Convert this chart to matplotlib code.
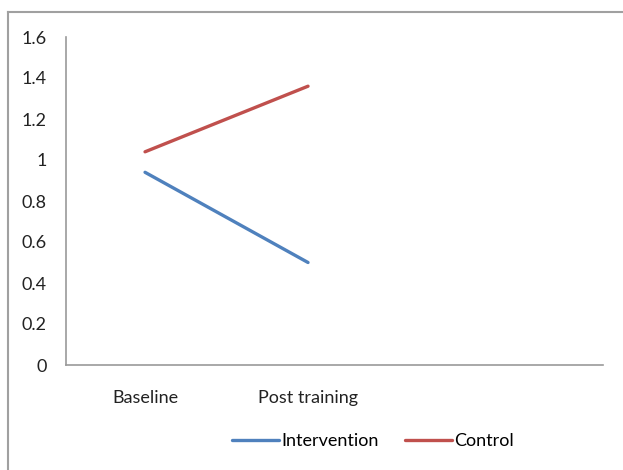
import numpy as np
import matplotlib.pyplot as plt
from matplotlib.lines import Line2D

categories = ["Baseline", "Post training"]
intervention = [0.94, 0.50]
control = [1.04, 1.36]
yticks = [0, 0.2, 0.4, 0.6, 0.8, 1, 1.2, 1.4, 1.6]
ytick_labels = ["0", "0.2", "0.4", "0.6", "0.8", "1", "1.2", "1.4", "1.6"]

plt.rcParams['font.family'] = ['Lato', 'DejaVu Sans']

W, H = 623, 470
fig = plt.figure(figsize=(W / 100, H / 100), dpi=100)
# axes box in pixels: x 66..603, y 37..365
ax = fig.add_axes([66 / W, 1 - 365 / H, (603 - 66) / W, (365 - 37) / H])

x = np.arange(len(categories))
ax.plot(x, intervention, color='#4F81BD', lw=2.4, label='Intervention', solid_capstyle='round')
ax.plot(x, control, color='#C0504D', lw=2.4, label='Control', solid_capstyle='round')

ax.set_ylim(0, 1.6)
ax.set_xlim(-0.485, 2.81)
ax.set_yticks(yticks)
ax.set_yticklabels(ytick_labels)
ax.set_xticks(x)
ax.set_xticklabels(categories)
ax.tick_params(axis='both', length=0, labelsize=13, colors='#222222')
ax.tick_params(axis='y', pad=14)
ax.tick_params(axis='x', pad=18)
for s in ['top', 'right']:
    ax.spines[s].set_visible(False)
for s in ['left', 'bottom']:
    ax.spines[s].set_color('#9a9a9a')
    ax.spines[s].set_linewidth(1.2)

ax.legend(loc='center', bbox_to_anchor=(373 / W, 1 - 441 / H), bbox_transform=fig.transFigure,
          ncol=2, frameon=False, fontsize=13, handlelength=2.6, handletextpad=0.1,
          columnspacing=1.5)

# outer chart frame (top and left edges visible)
fig.add_artist(Line2D([8 / W, 1], [1 - 12 / H, 1 - 12 / H], color='#a0a0a0', lw=1.5))
fig.add_artist(Line2D([8 / W, 8 / W], [0, 1 - 12 / H], color='#a0a0a0', lw=1.5))

fig.savefig('out.png', dpi=100)
